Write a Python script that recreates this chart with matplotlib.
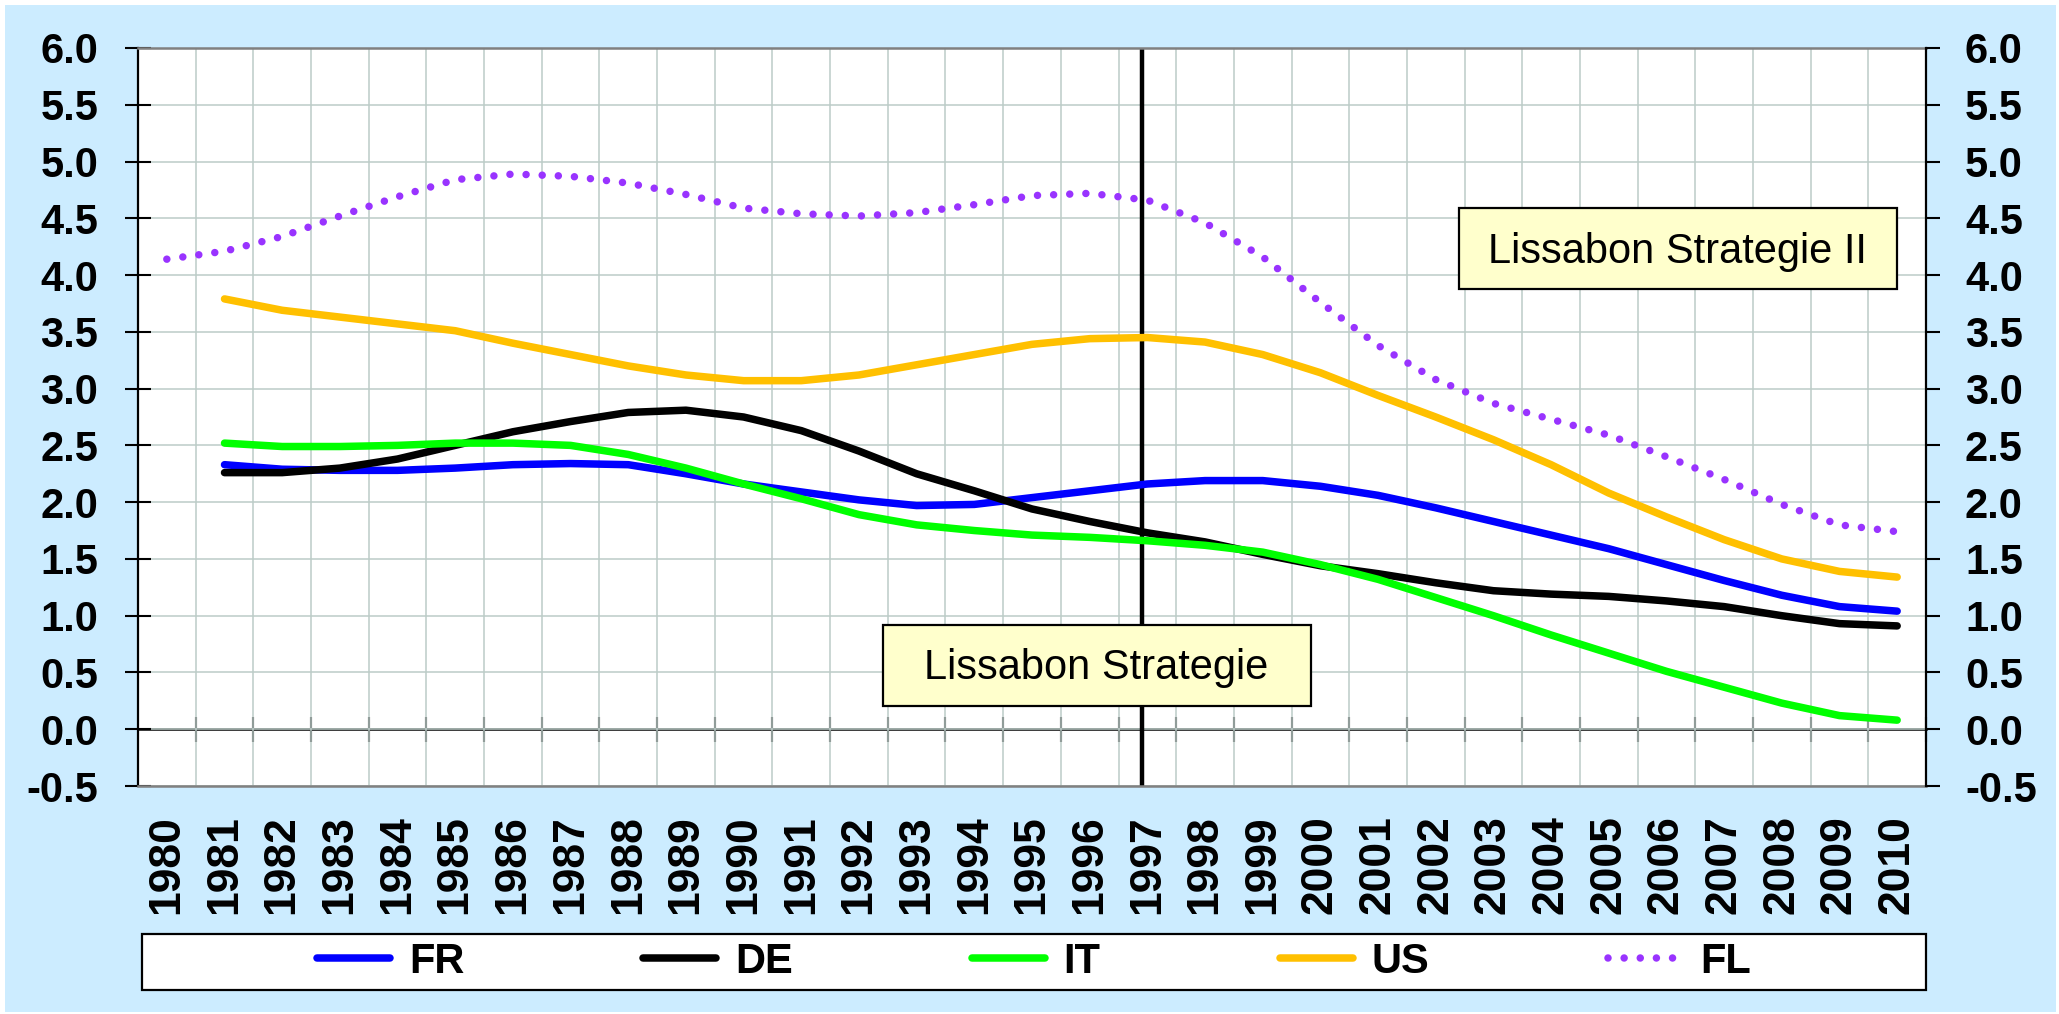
import numpy as np
import matplotlib.pyplot as plt
from matplotlib.patches import Rectangle
from matplotlib.lines import Line2D

plt.rcParams['font.family'] = ['Liberation Sans', 'DejaVu Sans']
plt.rcParams['font.weight'] = 'bold'

# data
years = list(range(1980, 2011))
years_us = years[1:]   # 1981..2010 for FR/DE/IT/US

fr = [2.33, 2.29, 2.28, 2.28, 2.30, 2.33, 2.34, 2.33, 2.25, 2.16,
      2.09, 2.02, 1.97, 1.98, 2.04, 2.10, 2.16, 2.19, 2.19, 2.14,
      2.06, 1.95, 1.83, 1.71, 1.59, 1.45, 1.31, 1.18, 1.08, 1.04]
de = [2.26, 2.26, 2.30, 2.38, 2.50, 2.62, 2.71, 2.79, 2.81, 2.75,
      2.63, 2.45, 2.25, 2.10, 1.94, 1.83, 1.73, 1.65, 1.54, 1.44,
      1.37, 1.29, 1.22, 1.19, 1.17, 1.13, 1.08, 1.00, 0.93, 0.91]
it = [2.52, 2.49, 2.49, 2.50, 2.52, 2.52, 2.50, 2.42, 2.30, 2.16,
      2.03, 1.89, 1.80, 1.75, 1.71, 1.69, 1.66, 1.62, 1.56, 1.45,
      1.32, 1.16, 1.00, 0.83, 0.67, 0.51, 0.37, 0.23, 0.12, 0.08]
us = [3.79, 3.69, 3.63, 3.57, 3.51, 3.40, 3.30, 3.20, 3.12, 3.07,
      3.07, 3.12, 3.21, 3.30, 3.39, 3.44, 3.45, 3.41, 3.30, 3.14,
      2.94, 2.75, 2.55, 2.33, 2.08, 1.87, 1.67, 1.50, 1.39, 1.34]
fl = [4.14, 4.21, 4.34, 4.52, 4.69, 4.84, 4.89, 4.87, 4.81, 4.71,
      4.59, 4.54, 4.52, 4.55, 4.62, 4.70, 4.72, 4.66, 4.46, 4.16,
      3.76, 3.38, 3.08, 2.87, 2.73, 2.59, 2.40, 2.20, 1.98, 1.80, 1.74]

names = ['FR', 'DE', 'IT', 'US', 'FL']
colors = ['#0000FF', '#000000', '#00FF00', '#FFC000', '#9933FF']
y_ticks = np.arange(-0.5, 6.01, 0.5)
lissabon_year = 1996.9

LW = 5.4
DOTS = (0, (0.001, 2.15))

W, H = 2059, 1014
fig = plt.figure(figsize=(W / 100, H / 100), dpi=100, facecolor='white')
fig.patches.append(Rectangle((5 / W, 2 / H), 1 - 8 / W, 1 - 7 / H, transform=fig.transFigure,
                             facecolor='#CCECFF', edgecolor='none', zorder=-10))

ax = fig.add_axes([138 / W, 1 - 786 / H, (1926 - 138) / W, (786 - 48) / H])
ax.set_facecolor('white')
ax.set_xlim(1979.5, 2010.5)
ax.set_ylim(-0.5, 6.0)

# grid
ax.set_xticks(years)
ax.set_xticks(np.arange(1980.5, 2010.5, 1), minor=True)
ax.set_xticklabels([str(y) for y in years], rotation=90, fontsize=32, fontweight='bold')
ax.tick_params(axis='x', which='both', length=0, pad=21)
ax.set_yticks(y_ticks)
ax.set_yticklabels(['%.1f' % v for v in y_ticks], fontsize=30, fontweight='bold')
ax.tick_params(axis='y', direction='inout', length=19, width=1.5, pad=19)
ax.grid(which='minor', axis='x', color='#BCCCC8', lw=1.1)
ax.grid(which='major', axis='y', color='#BCCCC8', lw=1.1)
ax.set_axisbelow(True)

for s in ['top', 'bottom']:
    ax.spines[s].set_color('#808080')
    ax.spines[s].set_linewidth(1.8)
ax.spines['left'].set_linewidth(1.6)
ax.spines['right'].set_visible(False)

ax2 = ax.twinx()
ax2.set_ylim(-0.5, 6.0)
ax2.set_yticks(y_ticks)
ax2.set_yticklabels(['%.1f' % v for v in y_ticks], fontsize=30, fontweight='bold')
ax2.tick_params(axis='y', direction='out', length=10, width=1.5, pad=18)
for s in ['top', 'bottom', 'left']:
    ax2.spines[s].set_visible(False)
ax2.spines['right'].set_linewidth(1.6)

# category axis crossing at zero
sec = ax.secondary_xaxis((0 - (-0.5)) / 6.5)
sec.set_xticks(np.arange(1980.5, 2011, 1))
sec.tick_params(direction='inout', length=18, width=1.5, labelbottom=False)
sec.spines['bottom'].set_linewidth(1.8)
sec.spines['bottom'].set_color('black')

ax.axvline(lissabon_year, color='black', lw=3.2, zorder=2)

series = [fr, de, it, us]
for name, col, vals in zip(names[:4], colors[:4], series):
    ax.plot(years_us, vals, color=col, lw=LW, solid_capstyle='round',
            solid_joinstyle='round', zorder=3)
ax.plot(years, fl, color=colors[4], lw=LW, linestyle=DOTS, dash_capstyle='round', zorder=3)

# annotation boxes
ax.add_patch(Rectangle((0.4165, 0.108), 0.2395, 0.110, transform=ax.transAxes,
                       facecolor='#FFFFCC', edgecolor='black', lw=1.6, zorder=4))
ax.text(0.536, 0.145, 'Lissabon Strategie', transform=ax.transAxes, ha='center',
        va='baseline', fontsize=30, fontweight='normal', zorder=5)
ax.add_patch(Rectangle((0.739, 0.673), 0.245, 0.110, transform=ax.transAxes,
                       facecolor='#FFFFCC', edgecolor='black', lw=1.6, zorder=4))
ax.text(0.861, 0.708, 'Lissabon Strategie II', transform=ax.transAxes, ha='center',
        va='baseline', fontsize=30, fontweight='normal', zorder=5)

# legend
fig.patches.append(Rectangle((142 / W, 1 - 990 / H), 1784 / W, 56 / H, transform=fig.transFigure,
                             facecolor='white', edgecolor='black', lw=1.6, zorder=1))
handles = [Line2D([], [], color=c, lw=LW, solid_capstyle='round') for c in colors[:4]]
handles.append(Line2D([], [], color=colors[4], lw=LW, linestyle=DOTS, dash_capstyle='round'))
fig.legend(handles, names, loc='center', bbox_to_anchor=(1034 / W, 1 - 962 / H), ncol=5,
           frameon=False, prop={'size': 30, 'weight': 'bold'}, handlelength=1.75,
           handletextpad=0.45, columnspacing=4.3)

fig.savefig('out.png', dpi=100, facecolor=fig.get_facecolor())
